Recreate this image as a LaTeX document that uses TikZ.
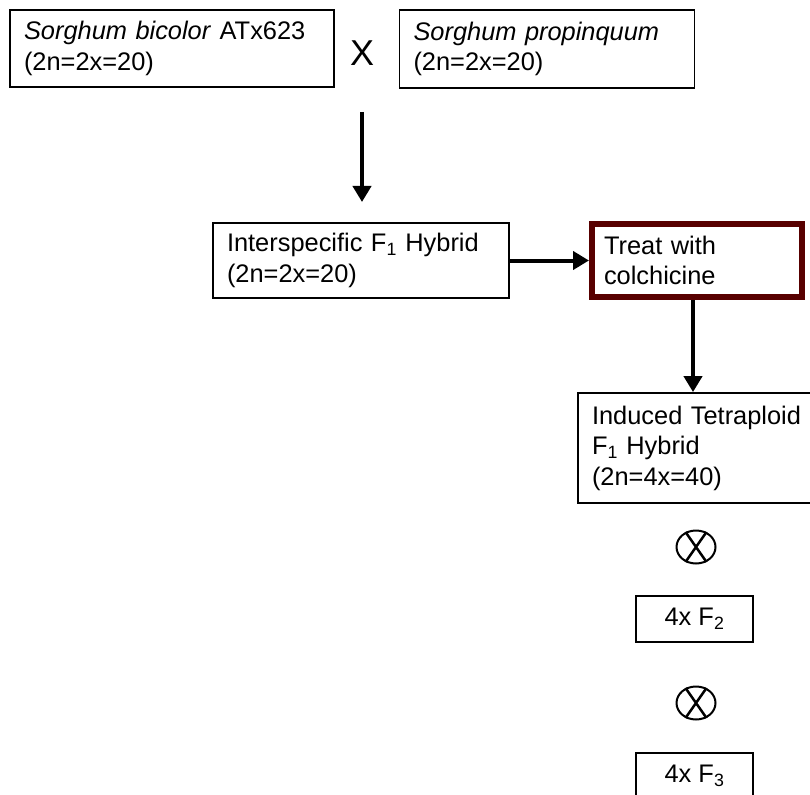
\documentclass[tikz,border=0pt]{standalone}
\usepackage{fontspec}
\setmainfont{Liberation Sans}
\usetikzlibrary{arrows.meta,shapes.geometric}
\definecolor{colchred}{RGB}{88,0,0}

\tikzset{
  stage/.style={draw, line width=1.8pt, align=left, inner xsep=14pt, inner ysep=0pt},
  flow/.style={line width=4pt, -{Triangle[length=16pt, width=18pt]}},
  selfed/.style={draw, ellipse, line width=2pt, minimum width=39pt, minimum height=33pt, inner sep=0pt}
}

\begin{document}
\begin{tikzpicture}[x=1pt, y=-1pt, every node/.style={font=\fontsize{25.4}{30.5}\selectfont}]
    \clip (0,0) rectangle (810,794);

    \node[stage, minimum width=324, minimum height=77, text width=296] (bicolor) at (172,48.5) {\textit{Sorghum bicolor} ATx623\\(2n=2x=20)};
    \node[stage, minimum width=295, minimum height=78, text width=267] (propinq) at (547,49) {\textit{Sorghum propinquum}\\(2n=2x=20)};
    \node[font=\fontsize{36}{36}\selectfont] (cross) at (362,53) {X};

    \coordinate (crossdown) at (362,112);
    \coordinate (hybridup) at (362,202);
    \draw[flow] (crossdown) -- (hybridup);

    \node[stage, minimum width=296, minimum height=75, text width=268] (hybrid) at (361,260.5) {Interspecific F\textsubscript{1} Hybrid\\(2n=2x=20)};
    \node[stage, draw=colchred, line width=6pt, minimum width=210, minimum height=73, text width=186, inner xsep=12pt] (colch) at (697,260.5) {Treat with\\colchicine};
    \draw[flow] (hybrid.east) -- (colch.west);

    \node[stage, minimum width=245, minimum height=110, text width=217] (tetra) at (700.5,448) {Induced Tetraploid\\F\textsubscript{1} Hybrid\\(2n=4x=40)};
    \draw[flow] (colch.south -| 693,0) -- (tetra.north -| 693,0);

    \node[selfed] (selfone) at (696,547) {};
    \draw[line width=2.5pt] (selfone.125) -- (selfone.-55) (selfone.55) -- (selfone.235);

    \node[stage, minimum width=117, minimum height=46, align=center] (ftwo) at (694.5,619) {4x F\textsubscript{2}};

    \node[selfed] (selftwo) at (696,703) {};
    \draw[line width=2.5pt] (selftwo.125) -- (selftwo.-55) (selftwo.55) -- (selftwo.235);

    \node[stage, minimum width=117, minimum height=46, align=center] (fthree) at (694.5,776) {4x F\textsubscript{3}};
\end{tikzpicture}
\end{document}
